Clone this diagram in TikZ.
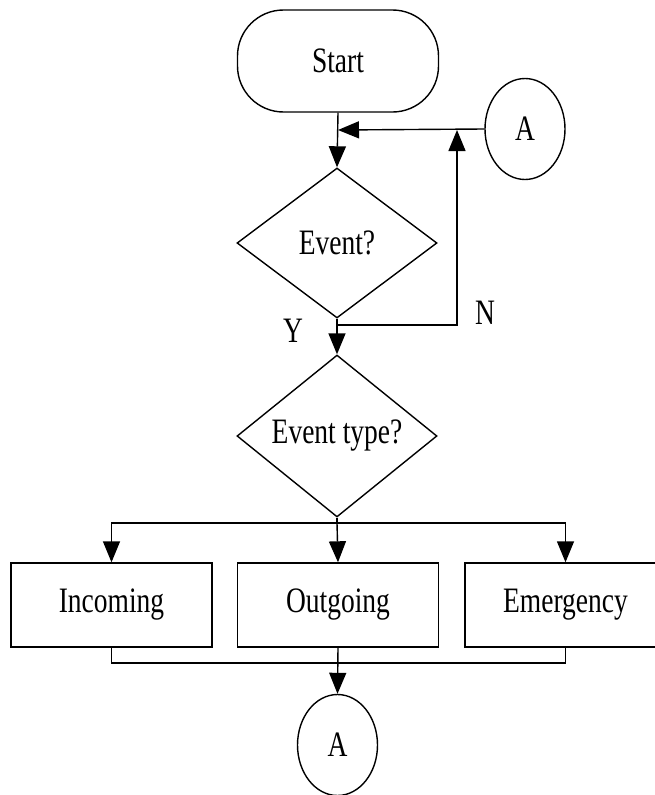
\documentclass[tikz,border=0pt]{standalone}
\usepackage{fontspec}
\usepackage{graphicx}
\setmainfont{Liberation Serif}
\usetikzlibrary{shapes.geometric,arrows.meta}
\newcommand{\tall}[1]{\scalebox{1}[1.3]{#1}}
\begin{document}
\begin{tikzpicture}[x=1pt,y=-1pt,
  every node/.style={font=\fontsize{27.5}{33}\selectfont, text=black},
  linestyle/.style={draw=black, line width=1.4pt},
  arr/.style={linestyle, -{Triangle[length=21pt,width=17pt]}},
  terminal/.style={linestyle, rectangle, rounded corners=46pt, minimum width=201pt, minimum height=102pt, inner sep=0pt},
  connector/.style={linestyle, ellipse, minimum width=80pt, minimum height=101pt, inner sep=0pt},
  decision/.style={linestyle, diamond, minimum width=200pt, minimum height=150pt, inner sep=0pt},
  process/.style={linestyle, rectangle, minimum width=201pt, minimum height=84pt, inner sep=0pt},
  lbl/.style={inner sep=0pt}]
\useasboundingbox (0,0) rectangle (655,795);
\node[terminal] (start) at (338,61) {\tall{Start}};
\node[connector] (A1) at (525,129) {\tall{A}};
\node[decision] (d1) at (337,243) {\tall{Event?}};
\node[decision] (d2) at (337,436) {\tall{Event type?}};
\node[process] (inc) at (111.5,605) {\tall{Incoming}};
\node[process] (out) at (338,605) {\tall{Outgoing}};
\node[process] (em) at (565.5,605) {\tall{Emergency}};
\node[connector] (A2) at (337.5,745) {\tall{A}};
\node[lbl] (ylab) at (293,331) {\tall{Y}};
\node[lbl] (nlab) at (485,313) {\tall{N}};
\coordinate (j1) at (338,130);
\coordinate (j2) at (457,130);
\coordinate (n1) at (337,325);
\coordinate (b1) at (337,523);
\coordinate (b2) at (337,663);
% connectors
\draw[arr] (start.south) -- (d1.north);
\draw[arr] (A1.west) -- (j1);
\draw[arr] (d1.south) -- (d2.north);
\draw[arr] (n1) -| (j2);
\draw[linestyle] (d2.south) -- (b1);
\draw[arr] (b1) -| (inc.north);
\draw[arr] (b1) -- (out.north);
\draw[arr] (b1) -| (em.north);
\draw[linestyle] (inc.south) |- (b2);
\draw[linestyle] (em.south) |- (b2);
\draw[arr] (out.south) -- (A2.north);
\end{tikzpicture}
\end{document}
